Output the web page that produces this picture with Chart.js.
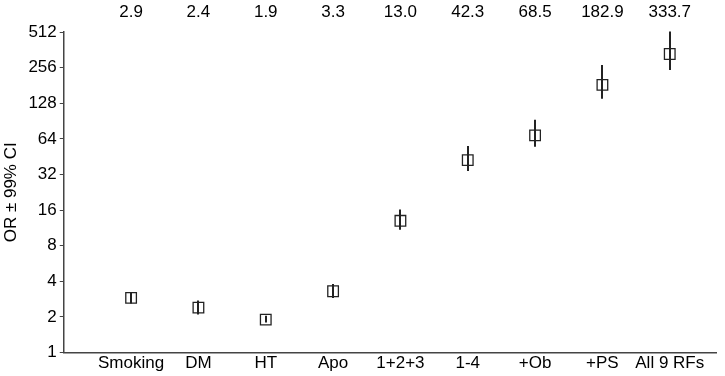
<!DOCTYPE html>
<html>
<head>
<meta charset="utf-8">
<script src="https://cdn.jsdelivr.net/npm/chart.js@4"></script>
<style>
  html, body { margin: 0; padding: 0; background: #fff; }
  #wrap { width: 725px; height: 376px; }
</style>
</head>
<body>
<div id="wrap"><canvas id="orChart"></canvas></div>
<script>
var categories = ['Smoking', 'DM', 'HT', 'Apo', '1+2+3', '1-4', '+Ob', '+PS', 'All 9 RFs'];
var ors = [2.9, 2.4, 1.9, 3.3, 13.0, 42.3, 68.5, 182.9, 333.7];
var ciLow = [2.6, 2.1, 1.8, 2.9, 10.9, 34.3, 55.0, 140, 245];
var ciHigh = [3.2, 2.75, 2.05, 3.8, 16.2, 55.8, 92.7, 270, 516];
var yTicks = [1, 2, 4, 8, 16, 32, 64, 128, 256, 512];

var FONT = '"Liberation Sans", Arial, sans-serif';

// error bars + OR values above the plot
var errorBars = {
    id: 'errorBars',
    beforeDatasetsDraw: function (chart) {
        var ctx = chart.ctx, xs = chart.scales.x, ys = chart.scales.y;
        ctx.save();
        ctx.strokeStyle = '#222';
        ctx.lineWidth = 2;
        for (var i = 0; i < ors.length; i++) {
            var x = Math.round(xs.getPixelForValue(i + 1));
            ctx.beginPath();
            ctx.moveTo(x, ys.getPixelForValue(ciLow[i]));
            ctx.lineTo(x, ys.getPixelForValue(ciHigh[i]));
            ctx.stroke();
        }
        ctx.restore();
    },
    afterDraw: function (chart) {
        var ctx = chart.ctx, xs = chart.scales.x;
        ctx.save();
        ctx.fillStyle = '#000';
        ctx.font = '17px ' + FONT;
        ctx.textAlign = 'center';
        ctx.textBaseline = 'middle';
        for (var i = 0; i < ors.length; i++) {
            ctx.fillText(ors[i].toFixed(1), xs.getPixelForValue(i + 1), 12);
        }
        ctx.restore();
    }
};

var GKChart = document.getElementById('orChart').getContext('2d');
var dataChart = new Chart(GKChart, {
    type: 'scatter',
    data: {
        datasets: [{
            label: 'OR',
            data: ors.map(function (v, i) { return { x: i + 1, y: v }; }),
            pointStyle: 'rect',
            pointRadius: 7.5,
            pointHoverRadius: 7.5,
            borderColor: '#222',
            borderWidth: 1.3,
            backgroundColor: 'rgba(0,0,0,0)'
        }]
    },
    options: {
        responsive: true,
        maintainAspectRatio: false,
        animation: false,
        events: [],
        layout: { padding: { top: 32, right: 6, left: 1, bottom: 1 } },
        plugins: { legend: { display: false }, tooltip: { enabled: false } },
        scales: {
            x: {
                type: 'linear',
                min: 0,
                max: 9.69,
                afterBuildTicks: function (axis) {
                    axis.ticks = categories.map(function (c, i) { return { value: i + 1 }; });
                },
                ticks: {
                    color: '#000',
                    font: { size: 17, family: FONT },
                    maxRotation: 0,
                    autoSkip: false,
                    padding: 1,
                    callback: function (v) { return categories[v - 1]; }
                },
                grid: { display: false, drawTicks: false },
                border: { color: '#444', width: 1.5 }
            },
            y: {
                type: 'logarithmic',
                min: 1,
                max: 512,
                afterBuildTicks: function (axis) {
                    axis.ticks = yTicks.map(function (v) { return { value: v }; });
                },
                ticks: {
                    color: '#000',
                    font: { size: 17, family: FONT },
                    padding: 3,
                    callback: function (v) { return String(v); }
                },
                grid: { drawOnChartArea: false, tickLength: 4, color: '#444' },
                border: { color: '#444', width: 1.5 },
                title: {
                    display: true,
                    text: 'OR ± 99% CI',
                    color: '#000',
                    font: { size: 17, family: FONT },
                    padding: { top: 0, bottom: 4 }
                }
            }
        }
    },
    plugins: [errorBars]
});
</script>
</body>
</html>
